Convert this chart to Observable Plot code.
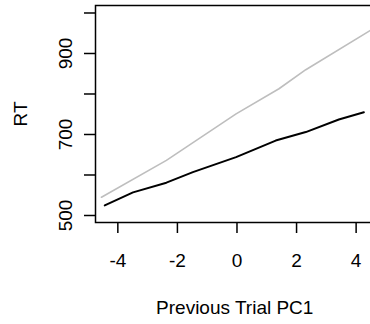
<!DOCTYPE html>
<html>
<head>
<meta charset="utf-8">
<script src="https://cdn.jsdelivr.net/npm/d3@7"></script>
<script src="https://cdn.jsdelivr.net/npm/@observablehq/plot@0.6"></script>
<style>
  html, body { margin: 0; padding: 0; background: white; }
  #chart { width: 370px; height: 324px; overflow: hidden; }
</style>
</head>
<body>
<div id="chart"></div>
<script>
// Gray series
const grayX = [-4.55, -2.37, -0.03, 1.41, 2.31, 4.5];
const grayY = [545, 636, 751, 813, 860, 958];
// Black series
const blackX = [-4.44, -3.49, -2.37, -1.48, -0.03, 1.30, 2.31, 3.42, 4.26];
const blackY = [525, 557, 581, 607, 644, 685, 706, 737, 755];
// Axis ticks
const xTicks = [-4, -2, 0, 2, 4];
const yTicks = [500, 600, 700, 800, 900, 1000];
const yTickLabels = [500, 700, 900];

const gray = grayX.map((x, i) => ({x, y: grayY[i]}));
const black = blackX.map((x, i) => ({x, y: blackY[i]}));

const chart = Plot.plot({
  width: 380,
  height: 324,
  marginLeft: 95,
  marginRight: 6.5,
  marginTop: 5,
  marginBottom: 102,
  x: {domain: [-4.75, 4.6]},
  y: {domain: [482.7, 1018.5]},
  style: {fontFamily: "'Liberation Sans', Arial, Helvetica, sans-serif", fontSize: "19px", background: "white", color: "black", maxWidth: "none"},
  marks: [
    Plot.frame({stroke: "black", strokeWidth: 1.5}),
    Plot.axisX({ticks: xTicks, tickSize: 11, tickPadding: 20, strokeWidth: 1.5,
      tickFormat: d => String(d),
      label: "Previous Trial PC1", labelAnchor: "center", labelOffset: 91, labelArrow: "none"}),
    Plot.axisY({ticks: yTicks, tickSize: 11, tickPadding: 13, tickRotate: -90, strokeWidth: 1.5,
      tickFormat: d => yTickLabels.includes(d) ? String(d) : "",
      label: "RT", labelAnchor: "center", labelOffset: 82, labelArrow: "none"}),
    Plot.line(gray, {x: "x", y: "y", stroke: "#bebebe", strokeWidth: 1.6}),
    Plot.line(black, {x: "x", y: "y", stroke: "black", strokeWidth: 2})
  ]
});
document.getElementById("chart").appendChild(chart);
</script>
</body>
</html>
